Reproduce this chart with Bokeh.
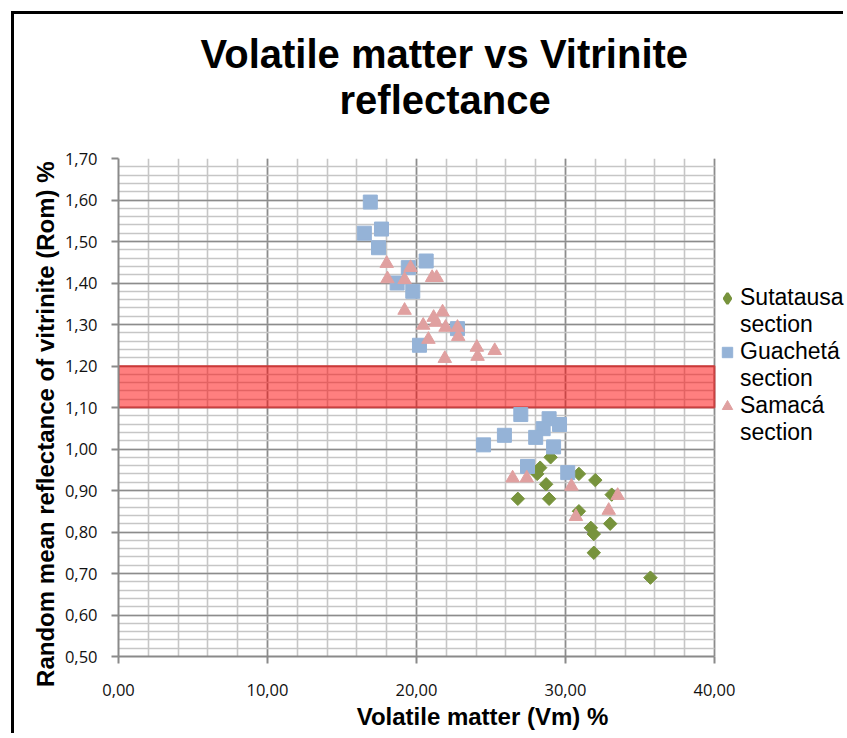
from bokeh.plotting import figure
from bokeh.models import (Range1d, FixedTicker, SingleIntervalTicker, CustomJSTickFormatter, BoxAnnotation,
                          Legend, LegendItem, Title)
from bokeh.embed import file_html
from bokeh.resources import INLINE
import math

# ---- data ----
sut_x = [29.0, 28.3, 28.1, 30.9, 32.0, 28.7, 26.8, 28.9, 33.1, 30.9, 31.7, 33.0, 31.9, 31.9, 35.7]
sut_y = [0.98, 0.955, 0.94, 0.94, 0.925, 0.915, 0.88, 0.88, 0.89, 0.85, 0.81, 0.82, 0.795, 0.75, 0.69]

gua_x = [16.9, 16.5, 17.65, 17.45, 19.45, 20.65, 18.7, 19.75, 22.75, 20.2,
         27.0, 25.9, 24.5, 28.9, 29.6, 28.5, 28.0, 29.2, 27.45, 30.15]
gua_y = [1.595, 1.52, 1.53, 1.485, 1.437, 1.453, 1.40, 1.38, 1.29, 1.25,
         1.083, 1.033, 1.01, 1.073, 1.059, 1.049, 1.028, 1.005, 0.958, 0.943]

sam_x = [18.0, 19.6, 18.05, 19.2, 21.05, 21.35, 19.2, 21.75, 21.15, 20.45, 21.3, 21.95, 22.75,
         20.8, 22.8, 24.05, 24.1, 25.25, 21.9, 26.45, 27.4, 30.4, 33.5, 32.9, 30.7]
sam_y = [1.447, 1.437, 1.41, 1.408, 1.413, 1.413, 1.334, 1.33, 1.317, 1.298, 1.305, 1.293, 1.293,
         1.264, 1.271, 1.245, 1.223, 1.237, 1.218, 0.93, 0.93, 0.91, 0.888, 0.852, 0.837]

band_low, band_high = 1.10, 1.20
x_min, x_max, x_step = 0, 40, 10
y_ticks = [0.50, 0.60, 0.70, 0.80, 0.90, 1.00, 1.10, 1.20, 1.30, 1.40, 1.50, 1.60, 1.70]
y_minor_step = 0.02

title_lines = ["Volatile matter vs Vitrinite", "reflectance"]
series_names = ["Sutatausa", "Guachetá", "Samacá"]
series_suffix = "section"
x_label = "Volatile matter (Vm) %"
y_label = "Random mean reflectance of vitrinite (Rom) %"

colors = {"sut": "#77933C", "gua": "#95B3D7", "sam": "#E0A0A0"}

# layout (pixels)
W, H = 832, 722
border_l, border_t, border_b = 104, 144, 80
axis_px = 596                      # pixel length of the 0..40 axis
frame_px = W - border_l            # frame runs to the right edge (legend lives there)
x_view_end = x_max * frame_px / axis_px

p = figure(width=W, height=H, output_backend="svg", toolbar_location=None,
           x_range=Range1d(x_min, x_view_end), y_range=Range1d(y_ticks[0], y_ticks[-1]),
           min_border_left=border_l, min_border_right=0, min_border_top=border_t,
           min_border_bottom=border_b)
p.styles = {"border-left": "3px solid black", "border-top": "3px solid black",
            "margin-left": "11px", "margin-top": "11px"}
p.outline_line_color = None
p.background_fill_color = "white"
p.border_fill_color = "white"

# titles: added from the plot outward
p.title.text = ""
spacer = Title(text="\u00a0", text_font_size="1px", standoff=34)
t2 = Title(text=title_lines[1], align="left", offset=221, text_font="Liberation Sans",
           text_font_size="40px", text_font_style="bold", text_color="black", standoff=0)
t1 = Title(text=title_lines[0], align="left", offset=82, text_font="Liberation Sans",
           text_font_size="40px", text_font_style="bold", text_color="black", standoff=0)
p.add_layout(spacer, "above")
p.add_layout(t2, "above")
p.add_layout(t1, "above")

fmt = CustomJSTickFormatter(code="return tick.toFixed(2).replace('.', ',');")
p.xaxis.ticker = SingleIntervalTicker(interval=x_step, num_minor_ticks=5)
n_minor = int(round((y_ticks[-1] - y_ticks[0]) / y_minor_step))
p.yaxis.ticker = FixedTicker(ticks=y_ticks,
                             minor_ticks=[round(y_ticks[0] + i * y_minor_step, 2) for i in range(n_minor + 1)])
p.xaxis.bounds = (x_min, x_max)
for ax in (p.xaxis, p.yaxis):
    ax.formatter = fmt
    ax.axis_line_color = "#8A8A8A"
    ax.axis_line_width = 2
    ax.major_tick_line_color = "#8A8A8A"
    ax.major_tick_line_width = 2
    ax.major_tick_out = 7
    ax.major_tick_in = 0
    ax.minor_tick_line_color = None
    ax.major_label_text_font = "Open Sans"
    ax.major_label_text_font_size = "16.5px"
    ax.major_label_text_color = "#111111"
    ax.axis_label_text_font = "Liberation Sans"
    ax.axis_label_text_font_size = "24px"
    ax.axis_label_text_font_style = "bold"
    ax.axis_label_text_color = "black"
p.xaxis.axis_label = x_label
# trailing no-break spaces shift the rotated label slightly down, as in the original
p.yaxis.axis_label = y_label + "\u00a0" * 5
p.xaxis.major_label_standoff = 20
p.xaxis.axis_label_standoff = 4
p.yaxis.major_label_standoff = 14
p.yaxis.axis_label_standoff = 3

for g in (p.xgrid, p.ygrid):
    g.grid_line_color = "#8C8C8C"
    g.grid_line_width = 1.6
    g.minor_grid_line_color = "#C6C6C6"
    g.minor_grid_line_width = 1.6
p.xgrid.bounds = (x_min, x_max)
try:
    p.ygrid.cross_bounds = (x_min, x_max)
except AttributeError:
    p.add_layout(BoxAnnotation(left=x_max + 0.06, fill_color="white", fill_alpha=1,
                               line_color=None, level="underlay"))

band = BoxAnnotation(left=x_min, right=x_max, bottom=band_low, top=band_high,
                     fill_color="#FF0000", fill_alpha=0.5,
                     line_color="#D03030", line_alpha=0.7, line_width=2, level="underlay")
p.add_layout(band)

# diamond key for the legend (legend swatches ignore marker angle); drawn first so the
# rotated squares on top of it cover it completely in the plot
r_sut_key = p.scatter(sut_x, sut_y, marker="diamond", size=9,
                      fill_color=colors["sut"], line_color=colors["sut"], line_width=2.5)
r_sut = p.scatter(sut_x, sut_y, marker="square", size=9.5, angle=math.pi / 4,
                  fill_color=colors["sut"], line_color=colors["sut"])
r_gua = p.scatter(gua_x, gua_y, marker="square", size=14,
                  fill_color=colors["gua"], line_color=colors["gua"])
r_sam = p.scatter(sam_x, sam_y, marker="triangle", size=13.5,
                  fill_color=colors["sam"], line_color=colors["sam"])

items = []
for name, r in zip(series_names, (r_sut_key, r_gua, r_sam)):
    items.append(LegendItem(label=name, renderers=[r]))
    items.append(LegendItem(label=series_suffix, renderers=[]))

legend = Legend(items=items, location=(axis_px, 210), padding=0, margin=0, spacing=0,
                glyph_width=26, glyph_height=26, label_standoff=0,
                label_text_font="Liberation Sans", label_text_font_size="23px",
                label_text_color="black",
                border_line_color=None, background_fill_alpha=0)
p.add_layout(legend, "center")

open("out.html", "w").write(file_html(p, INLINE))
